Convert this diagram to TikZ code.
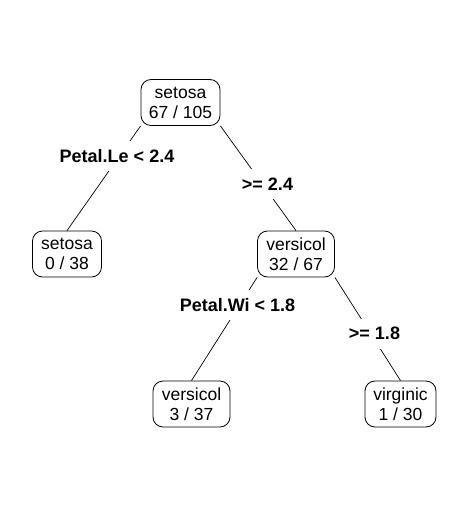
\documentclass[tikz,border=0pt]{standalone}
\usepackage{fontspec}
\setmainfont{Liberation Sans}
\begin{document}
\begin{tikzpicture}[x=1pt,y=-1pt,
  treebox/.style={draw, rounded corners=10pt, line width=0.8pt, align=center,
    font=\fontsize{17.5}{20}\selectfont, inner sep=0pt, minimum height=46pt},
  splitlabel/.style={fill=white, font=\bfseries\fontsize{18}{20}\selectfont,
    minimum height=30pt, inner xsep=1pt, inner ysep=0pt},
  branch/.style={line width=0.7pt}]
\useasboundingbox (0,0) rectangle (468,511);
\node[treebox, minimum width=79pt] (root) at (180.5,102.5) {setosa\\67 / 105};
\node[treebox, minimum width=69pt] (setosa) at (67,254) {setosa\\0 / 38};
\node[treebox, minimum width=77pt] (versA) at (296,254) {versicol\\32 / 67};
\node[treebox, minimum width=77pt] (versB) at (191.5,404) {versicol\\3 / 37};
\node[treebox, minimum width=71pt] (virg) at (400.5,404) {virginic\\1 / 30};
\draw[branch] (root.south west) -- (setosa.north);
\draw[branch] (root.south east) -- (versA.north);
\draw[branch] (versA.south west) -- (versB.north);
\draw[branch] (versA.south east) -- (virg.north);
\node[splitlabel] (l1) at (117,156) {Petal.Le < 2.4};
\node[splitlabel] (l2) at (267.5,184) {>= 2.4};
\node[splitlabel] (l3) at (237.5,305) {Petal.Wi < 1.8};
\node[splitlabel] (l4) at (374.5,333.5) {>= 1.8};
\end{tikzpicture}
\end{document}
